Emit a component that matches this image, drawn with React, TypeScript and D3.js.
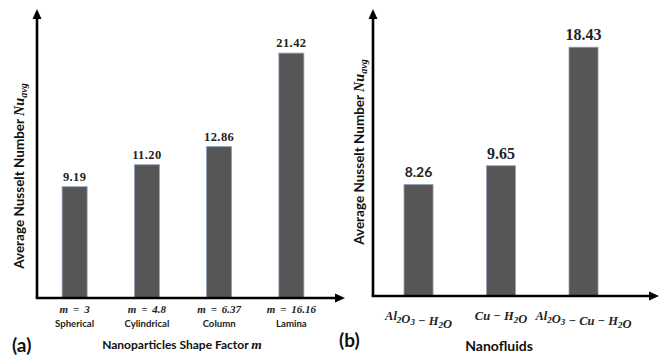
import React from "react";
import * as d3 from "d3";

const shapeFactors = ["m = 3", "m = 4.8", "m = 6.37", "m = 16.16"];
const shapeNames = ["Spherical", "Cylindrical", "Column", "Lamina"];
const nuShape = [9.19, 11.2, 12.86, 21.42];
const nuShapeLabels = ["9.19", "11.20", "12.86", "21.42"];

const fluids = ["Al2O3-H2O", "Cu-H2O", "Al2O3-Cu-H2O"];
const nuFluid = [8.26, 9.65, 18.43];
const nuFluidLabels = ["8.26", "9.65", "18.43"];

const BAR = "#565656";
const EDGE = "#8fa0bd";
const SANS = "Lato, 'Liberation Sans', sans-serif";
const SERIF = "'Liberation Serif', serif";

function YTitle({ x, y, size }: { x: number; y: number; size: number }) {
  return (
    <text
      transform={`translate(${x},${y}) rotate(-90)`}
      textAnchor="middle"
      fontFamily={SANS}
      fontWeight="bold"
      fontSize={size}
      fill="#111"
    >
      Average Nusselt Number{" "}
      <tspan fontFamily={SERIF} fontStyle="italic" fontSize={size * 1.05}>Nu</tspan>
      <tspan fontFamily={SERIF} fontStyle="italic" fontSize={size * 0.75} dy={3}>avg</tspan>
    </text>
  );
}

function Axes({ x0, y0, yTop, xEnd }: { x0: number; y0: number; yTop: number; xEnd: number }) {
  return (
    <g>
      <line x1={x0} y1={y0} x2={x0} y2={yTop + 8} stroke="#000" strokeWidth={2.6} />
      <polygon points={`${x0},${yTop} ${x0 - 4.5},${yTop + 10} ${x0 + 4.5},${yTop + 10}`} fill="#000" />
      <line x1={x0 - 1.3} y1={y0} x2={xEnd - 8} y2={y0} stroke="#000" strokeWidth={2.6} />
      <polygon points={`${xEnd},${y0} ${xEnd - 10},${y0 - 4.5} ${xEnd - 10},${y0 + 4.5}`} fill="#000" />
    </g>
  );
}

function FluidLabel({ name, x, y }: { name: string; x: number; y: number }) {
  const parts = name.split("-");
  const sub = (s: string) => {
    const out: React.ReactNode[] = [];
    const re = /([A-Za-z]+)(\d?)/g;
    let m: RegExpExecArray | null;
    let k = 0;
    while ((m = re.exec(s))) {
      out.push(<tspan key={k++}>{m[1]}</tspan>);
      if (m[2]) out.push(<tspan key={k++} fontSize={9} dy={2.5}>{m[2]}</tspan>, <tspan key={k++} dy={-2.5}>{""}</tspan>);
    }
    return out;
  };
  const nodes: React.ReactNode[] = [];
  parts.forEach((p, i) => {
    if (i > 0) nodes.push(<tspan key={"d" + i}>{" \u2212 "}</tspan>);
    nodes.push(<tspan key={"p" + i}>{sub(p)}</tspan>);
  });
  return (
    <text x={x} y={y} textAnchor="middle" fontFamily={SERIF} fontStyle="italic" fontWeight="bold" fontSize={12.5} fill="#222">
      {nodes}
    </text>
  );
}

export default function App() {
  const W = 666, H = 358;
  // Panel (a)
  const xA = d3.scaleBand<string>().domain(shapeFactors).range([26, 340]).paddingInner(0.654).paddingOuter(0.5);
  const yA = d3.scaleLinear().domain([-1, 25]).range([298, 14]);
  // Panel (b)
  const xB = d3.scaleBand<string>().domain(fluids).range([362.75, 639.3]).paddingInner(0.648).paddingOuter(0.5);
  const yB = d3.scaleLinear().domain([0, 20]).range([296, 26]);

  return (
    <svg width={W} height={H} style={{ position: "absolute", left: 0, top: 0, background: "#fff" }}>
      <rect width={W} height={H} fill="#fff" />
      {/* Panel (a) */}
      {nuShape.map((v, i) => {
        const x = xA(shapeFactors[i])!;
        const bw = xA.bandwidth();
        return (
          <g key={"a" + i}>
            <rect x={x} y={yA(v)} width={bw} height={yA(-1) - yA(v)} fill={BAR} stroke={EDGE} strokeWidth={0.8} />
            <text x={x + bw / 2} y={yA(v) - 6} textAnchor="middle" fontFamily={SERIF} fontWeight="bold" fontSize={12.5} fill="#222" letterSpacing={0.4}>
              {nuShapeLabels[i]}
            </text>
            <text x={x + bw / 2} y={313} textAnchor="middle" fontFamily={SERIF} fontStyle="italic" fontWeight="bold" fontSize={11} fill="#222">
              {shapeFactors[i].replace("=", "\u2009=\u2009")}
            </text>
            <text x={x + bw / 2} y={326.5} textAnchor="middle" fontFamily={SANS} fontWeight="bold" fontSize={9.6} fill="#222">
              {shapeNames[i]}
            </text>
          </g>
        );
      })}
      <Axes x0={37} y0={298} yTop={9} xEnd={345} />
      <YTitle x={24} y={176} size={13.5} />
      <text x={182} y={349} textAnchor="middle" fontFamily={SANS} fontWeight="bold" fontSize={12} fill="#111">
        Nanoparticles Shape Factor{"  "}
        <tspan fontFamily={SERIF} fontStyle="italic" fontSize={13.5}>m</tspan>
      </text>
      <text x={12} y={352} fontFamily={SANS} fontWeight="bold" fontSize={19} fill="#111">(a)</text>

      {/* Panel (b) */}
      {nuFluid.map((v, i) => {
        const x = xB(fluids[i])!;
        const bw = xB.bandwidth();
        const isSans = i === 0;
        return (
          <g key={"b" + i}>
            <rect x={x} y={yB(v)} width={bw} height={yB(0) - yB(v)} fill={BAR} stroke={EDGE} strokeWidth={0.8} />
            <text
              x={x + bw / 2}
              y={yB(v) - 7}
              textAnchor="middle"
              fontFamily={isSans ? SANS : SERIF}
              fontWeight="bold"
              fontSize={isSans ? 14 : 16}
              fill="#222"
            >
              {nuFluidLabels[i]}
            </text>
            <FluidLabel name={fluids[i]} x={x + bw / 2} y={320} />
          </g>
        );
      })}
      <Axes x0={373} y0={296} yTop={9} xEnd={659} />
      <YTitle x={364} y={152} size={13.5} />
      <text x={499} y={351} textAnchor="middle" fontFamily={SANS} fontWeight="bold" fontSize={14} fill="#111">
        Nanofluids
      </text>
      <text x={339} y={347} fontFamily={SANS} fontWeight="bold" fontSize={19} fill="#111">(b)</text>
    </svg>
  );
}
